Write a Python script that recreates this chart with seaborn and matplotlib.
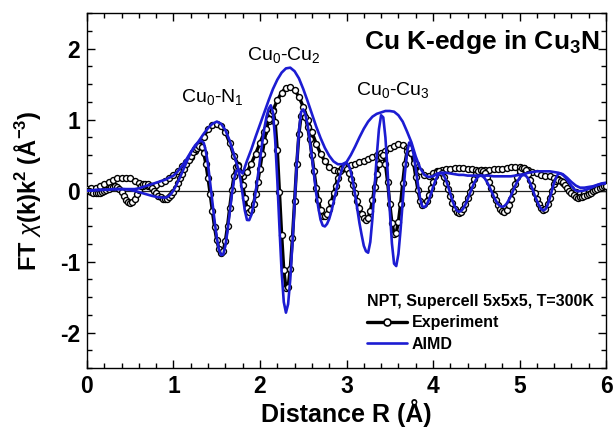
import numpy as np
import pandas as pd
import matplotlib
matplotlib.use("Agg")
import matplotlib.pyplot as plt
from matplotlib.ticker import MultipleLocator
from matplotlib.lines import Line2D
import seaborn as sns

# ---------------- data ----------------
# magnitude curves on a 0.05 A grid, 0 ... 6 A
EXP_MAG = [
    0.02, 0.03, 0.04, 0.06, 0.09, 0.12, 0.15, 0.17, 0.18, 0.18,
    0.17, 0.14, 0.10, 0.07, 0.06, 0.07, 0.08, 0.11, 0.14, 0.18,
    0.22, 0.27, 0.34, 0.40, 0.47, 0.55, 0.64, 0.76, 0.86, 0.92,
    0.94, 0.91, 0.82, 0.67, 0.48, 0.36, 0.21, 0.26, 0.38, 0.52,
    0.67, 0.82, 0.98, 1.13, 1.27, 1.38, 1.45, 1.46, 1.42, 1.32,
    1.18, 1.00, 0.82, 0.66, 0.52, 0.41, 0.33, 0.29, 0.28, 0.31,
    0.33, 0.36, 0.38, 0.40, 0.42, 0.44, 0.47, 0.50, 0.53, 0.56,
    0.60, 0.63, 0.65, 0.64, 0.60, 0.53, 0.37, 0.27, 0.22, 0.21,
    0.24, 0.27, 0.29, 0.30, 0.31, 0.32, 0.32, 0.32, 0.31, 0.30,
    0.29, 0.29, 0.29, 0.29, 0.30, 0.30, 0.31, 0.32, 0.33, 0.33,
    0.33, 0.32, 0.29, 0.26, 0.24, 0.22, 0.21, 0.20, 0.18, 0.16,
    0.11, 0.06, 0.02, -0.02, -0.04, -0.03, 0.00, 0.02, 0.04, 0.05,
    0.06,
]
AIMD_MAG = [
    0.00, 0.00, 0.01, 0.01, 0.01, 0.01, 0.02, 0.02, 0.02, 0.02,
    0.02, 0.02, 0.03, 0.05, 0.07, 0.09, 0.11, 0.13, 0.15, 0.18,
    0.21, 0.27, 0.35, 0.44, 0.54, 0.62, 0.71, 0.80, 0.88, 0.94,
    0.97, 0.94, 0.85, 0.70, 0.50, 0.30, 0.24, 0.42, 0.58, 0.76,
    0.93, 1.10, 1.27, 1.43, 1.56, 1.66, 1.72, 1.73, 1.68, 1.58,
    1.43, 1.26, 1.08, 0.90, 0.74, 0.60, 0.49, 0.41, 0.37, 0.37,
    0.40, 0.50, 0.62, 0.75, 0.87, 0.97, 1.04, 1.08, 1.10, 1.12,
    1.12, 1.11, 1.06, 0.97, 0.83, 0.68, 0.48, 0.32, 0.22, 0.19,
    0.20, 0.24, 0.25, 0.25, 0.24, 0.23, 0.22, 0.22, 0.21, 0.21,
    0.21, 0.21, 0.21, 0.21, 0.20, 0.20, 0.20, 0.20, 0.20, 0.21,
    0.22, 0.23, 0.25, 0.26, 0.27, 0.27, 0.27, 0.27, 0.26, 0.25,
    0.23, 0.18, 0.12, 0.07, 0.04, 0.04, 0.05, 0.06, 0.08, 0.10,
    0.11,
]
# oscillating (imaginary-part) curves on a 0.025 A grid, 0 ... 6 A
EXP_IM = [
    0.00, -0.004, -0.015, -0.028, -0.037, -0.04, -0.035, -0.024,
    -0.008, 0.01, 0.028, 0.044, 0.055, 0.06, 0.052, 0.021,
    -0.026, -0.081, -0.132, -0.167, -0.18, -0.163, -0.118, -0.054,
    0.014, 0.068, 0.097, 0.098, 0.085, 0.063, 0.032, -0.003,
    -0.039, -0.071, -0.098, -0.114, -0.12, -0.113, -0.093, -0.061,
    -0.016, 0.035, 0.10, 0.17, 0.235, 0.305, 0.375, 0.435,
    0.49, 0.545, 0.58, 0.605, 0.62, 0.606, 0.524, 0.374,
    0.17, -0.055, -0.295, -0.52, -0.70, -0.82, -0.88, -0.85,
    -0.71, -0.50, -0.24, 0.006, 0.21, 0.325, 0.34, 0.246,
    0.083, -0.105, -0.248, -0.30, -0.272, -0.186, -0.054, 0.126,
    0.31, 0.51, 0.694, 0.864, 1.006, 1.09, 1.12, 0.97,
    0.566, -0.014, -0.62, -1.12, -1.375, -1.36, -1.10, -0.675,
    -0.15, 0.375, 0.80, 1.05, 1.094, 1.03, 0.90, 0.72,
    0.50, 0.27, 0.04, -0.13, -0.28, -0.36, -0.366, -0.33,
    -0.26, -0.16, -0.04, 0.07, 0.176, 0.27, 0.316, 0.33,
    0.308, 0.25, 0.167, 0.071, -0.04, -0.151, -0.247, -0.329,
    -0.388, -0.41, -0.385, -0.29, -0.137, 0.045, 0.227, 0.373,
    0.473, 0.497, 0.377, 0.12, -0.183, -0.456, -0.607, -0.596,
    -0.44, -0.193, 0.11, 0.38, 0.551, 0.598, 0.535, 0.39,
    0.195, 0.009, -0.145, -0.21, -0.197, -0.148, -0.066, 0.03,
    0.126, 0.203, 0.256, 0.27, 0.246, 0.191, 0.111, 0.016,
    -0.084, -0.178, -0.255, -0.302, -0.32, -0.305, -0.262, -0.194,
    -0.11, -0.015, 0.08, 0.164, 0.232, 0.275, 0.29, 0.278,
    0.243, 0.184, 0.113, 0.03, -0.058, -0.135, -0.205, -0.259,
    -0.294, -0.30, -0.272, -0.21, -0.114, -0.013, 0.097, 0.196,
    0.27, 0.314, 0.318, 0.29, 0.234, 0.155, 0.066, -0.034,
    -0.123, -0.193, -0.246, -0.27, -0.254, -0.194, -0.102, 0.0,
    0.089, 0.141, 0.149, 0.137, 0.113, 0.08, 0.042, 0.0,
    -0.038, -0.067, -0.09, -0.10, -0.098, -0.092, -0.082, -0.067,
    -0.05, -0.031, -0.012, 0.007, 0.025, 0.038, 0.05, 0.058,
    0.06,
]
AIMD_IM = [
    0.0, 0.0, 0.001, 0.001, 0.003, 0.004, 0.006, 0.008,
    0.010, 0.012, 0.014, 0.016, 0.018, 0.019, 0.020, 0.020,
    0.020, 0.019, 0.017, 0.014, 0.009, 0.002, -0.005, -0.013,
    -0.021, -0.031, -0.04, -0.049, -0.059, -0.067, -0.075, -0.082,
    -0.089, -0.094, -0.097, -0.099, -0.10, -0.094, -0.074, -0.042,
    0.002, 0.057, 0.12, 0.185, 0.256, 0.329, 0.40, 0.468,
    0.532, 0.588, 0.636, 0.668, 0.69, 0.70, 0.67, 0.55,
    0.36, 0.10, -0.16, -0.43, -0.66, -0.83, -0.91, -0.90,
    -0.777, -0.566, -0.31, -0.054, 0.154, 0.276, 0.288, 0.154,
    -0.065, -0.284, -0.415, -0.417, -0.344, -0.208, -0.02, 0.198,
    0.434, 0.662, 0.874, 1.037, 1.151, 1.20, 1.10, 0.72,
    0.15, -0.52, -1.14, -1.57, -1.72, -1.60, -1.25, -0.74,
    -0.17, 0.375, 0.83, 1.107, 1.143, 1.07, 0.926, 0.72,
    0.47, 0.22, -0.045, -0.244, -0.41, -0.493, -0.506, -0.47,
    -0.40, -0.294, -0.168, -0.033, 0.102, 0.21, 0.309, 0.372,
    0.39, 0.358, 0.264, 0.117, -0.061, -0.265, -0.461, -0.626,
    -0.778, -0.855, -0.876, -0.725, -0.39, 0.055, 0.492, 0.864,
    1.06, 1.03, 0.745, 0.27, -0.27, -0.745, -1.03, -1.064,
    -0.895, -0.552, -0.165, 0.24, 0.539, 0.676, 0.645, 0.514,
    0.312, 0.091, -0.106, -0.222, -0.237, -0.204, -0.139, -0.054,
    0.044, 0.132, 0.203, 0.243, 0.247, 0.213, 0.146, 0.057,
    -0.047, -0.146, -0.223, -0.281, -0.30, -0.288, -0.252, -0.195,
    -0.124, -0.045, 0.034, 0.105, 0.162, 0.198, 0.21, 0.199,
    0.168, 0.119, 0.058, -0.01, -0.078, -0.139, -0.188, -0.219,
    -0.23, -0.219, -0.187, -0.137, -0.075, -0.005, 0.065, 0.127,
    0.177, 0.209, 0.22, 0.206, 0.165, 0.098, 0.02, -0.065,
    -0.14, -0.21, -0.26, -0.28, -0.264, -0.204, -0.108, 0.001,
    0.11, 0.193, 0.235, 0.237, 0.22, 0.19, 0.15, 0.105,
    0.065, 0.027, 0.001, -0.01, -0.009, -0.005, 0.002, 0.013,
    0.024, 0.037, 0.05, 0.064, 0.076, 0.085, 0.093, 0.098,
    0.10,
]
R_MAG = np.linspace(0.0, 6.0, len(EXP_MAG))
R_IM = np.linspace(0.0, 6.0, len(EXP_IM))

PEAK_LABELS = [r"Cu$_0$-N$_1$", r"Cu$_0$-Cu$_2$", r"Cu$_0$-Cu$_3$"]
PEAK_POS = [(1.45, 1.24), (2.27, 1.84), (3.54, 1.34)]
SERIES = ["Experiment", "AIMD"]
LEGEND_TITLE = "NPT, Supercell 5x5x5, T=300K"

# ---------------- style ----------------
sns.set_style("ticks")
plt.rcParams["font.family"] = ["Liberation Sans", "DejaVu Sans"]
plt.rcParams["mathtext.fontset"] = "custom"
plt.rcParams["mathtext.rm"] = "Liberation Sans"
plt.rcParams["mathtext.it"] = "Liberation Sans:italic"
plt.rcParams["mathtext.bf"] = "Liberation Sans:bold"
plt.rcParams["axes.unicode_minus"] = False
plt.rcParams["text.color"] = "black"
plt.rcParams["axes.labelcolor"] = "black"
plt.rcParams["xtick.color"] = "black"
plt.rcParams["ytick.color"] = "black"
plt.rcParams["axes.edgecolor"] = "black"

BLUE = "#1c1cd2"

fig = plt.figure(figsize=(6.16, 4.32), dpi=100)
ax = fig.add_axes([0.1412, 0.1481, 0.8426, 0.8218])

df_mag = pd.DataFrame({"R": R_MAG, "exp": EXP_MAG, "aimd": AIMD_MAG})
df_im = pd.DataFrame({"R": R_IM, "exp": EXP_IM, "aimd": AIMD_IM})

ax.axhline(0, color="#222222", lw=0.9, zorder=1)

exp_kw = dict(color="black", lw=2.4, marker="o", markersize=4.3,
              markerfacecolor="white", markeredgecolor="black",
              markeredgewidth=1.0, errorbar=None, legend=False, zorder=3)
sns.lineplot(data=df_mag, x="R", y="exp", ax=ax, **exp_kw)
sns.lineplot(data=df_im, x="R", y="exp", ax=ax, **exp_kw)

aimd_kw = dict(color=BLUE, lw=1.9, errorbar=None, legend=False, zorder=4)
sns.lineplot(data=df_mag, x="R", y="aimd", ax=ax, **aimd_kw)
sns.lineplot(data=df_im, x="R", y="aimd", ax=ax, **aimd_kw)

ax.set_xlim(0, 6)
ax.set_ylim(-2.5, 2.5)
ax.xaxis.set_major_locator(MultipleLocator(1))
ax.xaxis.set_minor_locator(MultipleLocator(0.2))
ax.yaxis.set_major_locator(MultipleLocator(1))
ax.yaxis.set_minor_locator(MultipleLocator(0.25))
ax.tick_params(which="both", direction="in", top=True, right=True,
               width=1.0, color="black")
ax.tick_params(which="major", length=6)
ax.tick_params(which="minor", length=3.5)
ax.tick_params(axis="y", which="major", pad=5, labelsize=16.5)
ax.tick_params(axis="x", which="major", pad=5, labelsize=16.5)
for lab in ax.get_xticklabels() + ax.get_yticklabels():
    lab.set_fontweight("bold")
for sp in ax.spines.values():
    sp.set_visible(True)
    sp.set_linewidth(1.0)
    sp.set_color("black")

ax.set_xlabel("Distance R (Å)", fontsize=18, fontweight="bold")
ax.set_ylabel(r"FT $\chi$(k)k$^\mathbf{2}$ (Å$^\mathbf{-3}$)",
              fontsize=17, fontweight="bold")
ax.xaxis.set_label_coords(0.5, -0.087)
ax.yaxis.set_label_coords(-0.085, 0.5)

ax.text(5.92, 1.99, r"Cu K-edge in Cu$_\mathbf{3}$N", fontsize=19,
        fontweight="bold", ha="right", va="baseline")
for lab, (px, py) in zip(PEAK_LABELS, PEAK_POS):
    ax.text(px, py, lab, fontsize=14, ha="center", va="baseline")

h_exp = Line2D([], [], color="black", lw=2.4, marker="o", markersize=5,
               markerfacecolor="white", markeredgecolor="black",
               markeredgewidth=1.2)
h_aimd = Line2D([], [], color=BLUE, lw=1.9)
leg = ax.legend([h_exp, h_aimd], SERIES, title=LEGEND_TITLE,
                loc="lower left", bbox_to_anchor=(0.540, 0.045),
                frameon=False, handlelength=2.5, handletextpad=0.3,
                labelspacing=0.42, borderpad=0.0, borderaxespad=0.0,
                numpoints=1, alignment="left",
                prop={"weight": "bold", "size": 11.5},
                title_fontproperties={"weight": "bold", "size": 11.5})

fig.savefig("out.png", dpi=100)
